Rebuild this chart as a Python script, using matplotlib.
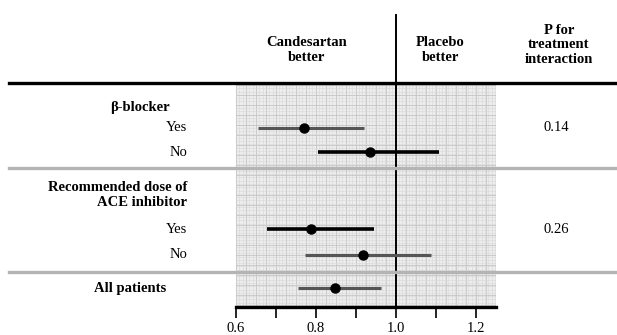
import numpy as np
import matplotlib
matplotlib.use("Agg")
import matplotlib.pyplot as plt
from matplotlib.lines import Line2D

# Data (hazard ratios with 95% CI)
row_labels = ["Yes", "No", "Yes", "No", ""]
hazard_ratio = [0.77, 0.935, 0.787, 0.918, 0.848]
ci_low = [0.655, 0.805, 0.677, 0.772, 0.756]
ci_high = [0.92, 1.107, 0.945, 1.088, 0.963]
p_interaction = ["0.14", "0.26"]
tick_values = [0.6, 0.7, 0.8, 0.9, 1.0, 1.1, 1.2]
tick_labels = ["0.6", "", "0.8", "", "1.0", "", "1.2"]

# layout (pixels from the top of a 617x335 image)
W, H = 617, 335
row_y = [127.7, 152.3, 229.3, 255.0, 288.3]
ci_colors = ["#555555", "black", "black", "#555555", "#555555"]
ci_widths = [2.2, 2.6, 2.6, 2.2, 2.2]

plt.rcParams["font.family"] = ["Liberation Serif", "DejaVu Serif"]
plt.rcParams["font.size"] = 10.5

fig = plt.figure(figsize=(W / 100, H / 100), dpi=100)


def fx(px):
    return px / W


def fy(py):
    return 1 - py / H


ax = fig.add_axes([fx(236), fy(307), (496 - 236) / W, (307 - 85) / H])
ax.set_xlim(0.6, 1.25)
ax.set_ylim(307, 85)
ax.set_facecolor("#ededed")

# graph paper look of the shaded panel
for xv in np.arange(0.6, 1.25, 0.0083):
    ax.axvline(xv, color="#d8d8d8", lw=0.4, zorder=0)
for xv in np.arange(0.6, 1.25, 0.025):
    ax.axvline(xv, color="#c6c6c6", lw=0.6, zorder=0)
for yv in np.arange(85, 307, 3.3):
    ax.axhline(yv, color="#d8d8d8", lw=0.4, zorder=0)
for yv in np.arange(85, 307, 10):
    ax.axhline(yv, color="#c6c6c6", lw=0.6, zorder=0)

# reference line at HR = 1
ax.plot([1.0, 1.0], [15, 307], color="black", lw=1.4, clip_on=False, zorder=3)

# CIs and point estimates
for i in range(len(hazard_ratio)):
    ax.plot([ci_low[i], ci_high[i]], [row_y[i], row_y[i]],
            color=ci_colors[i], lw=ci_widths[i], solid_capstyle="butt", zorder=4)
    ax.plot(hazard_ratio[i], row_y[i], "o", color="black", ms=6.5, zorder=5)

for s in ["top", "left", "right"]:
    ax.spines[s].set_visible(False)
ax.spines["bottom"].set_linewidth(2.4)
ax.set_yticks([])
ax.set_xticks(tick_values)
ax.set_xticklabels(tick_labels)
ax.tick_params(axis="x", length=8, width=1.2, pad=2.5, labelsize=10.5)

# horizontal rules across the figure
fig.add_artist(Line2D([fx(9), 1], [fy(83), fy(83)], color="black", lw=2.4))
for yy in [168, 271.7]:
    fig.add_artist(Line2D([fx(9), 1], [fy(yy), fy(yy)], color="#b4b4b4", lw=2.4))

# header texts
fig.text(fx(307), fy(50), "Candesartan\nbetter", ha="center", va="center",
         fontweight="bold", linespacing=1.15)
fig.text(fx(440), fy(50), "Placebo\nbetter", ha="center", va="center",
         fontweight="bold", linespacing=1.15)
fig.text(fx(559), fy(45), "P for\ntreatment\ninteraction", ha="center", va="center",
         fontweight="bold", linespacing=1.15)

# left labels
fig.text(fx(140), fy(108), "β-blocker", ha="center", va="center", fontweight="bold")
fig.text(fx(187), fy(195), "Recommended dose of\nACE inhibitor", ha="right", va="center",
         fontweight="bold", linespacing=1.15)
fig.text(fx(130), fy(row_y[4]), "All patients", ha="center", va="center", fontweight="bold")
for i, lab in enumerate(row_labels):
    if lab:
        fig.text(fx(187), fy(row_y[i]), lab, ha="right", va="center")

# p-values
fig.text(fx(556), fy(row_y[0]), p_interaction[0], ha="center", va="center")
fig.text(fx(556), fy(row_y[2]), p_interaction[1], ha="center", va="center")

fig.savefig("out.png", dpi=100)
